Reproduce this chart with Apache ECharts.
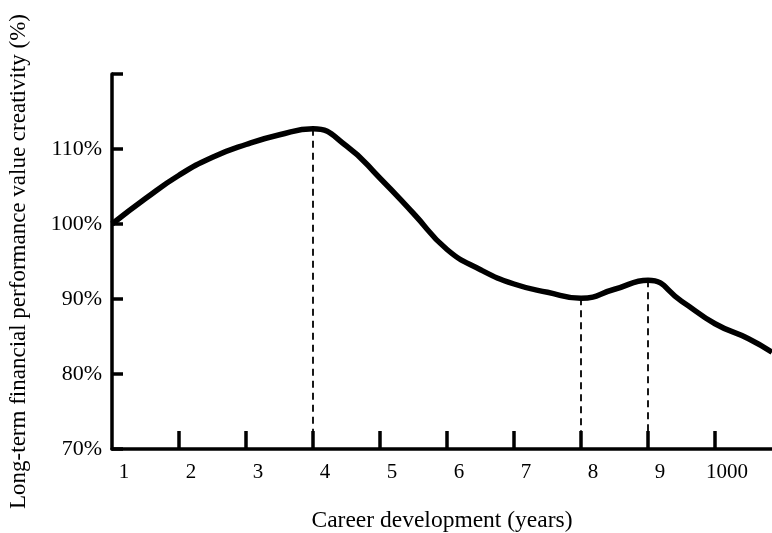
<!DOCTYPE html>
<html>
<head>
<meta charset="utf-8">
<script src="https://cdn.jsdelivr.net/npm/echarts@6/dist/echarts.min.js"></script>
<style>
    html, body { margin: 0; padding: 0; background: #fff; }
    #chart { width: 772px; height: 533px; }
</style>
</head>
<body>
<div id="chart"></div>
<script>
    // career position (tick index) and creativity (%)
    var careerX = [0, 0.5, 1, 1.5, 2, 2.5, 3, 3.5, 4, 4.5, 5, 5.5, 6, 6.5, 7, 7.5, 8, 8.5, 9, 9.5, 9.85];
    var creativity = [100, 103.4, 106.5, 108.9, 110.6, 111.9, 112.7, 110.4, 106.1, 101.4, 96.6, 93.9, 92.0, 90.9, 90.1, 91.3, 92.5, 89.7, 86.7, 84.7, 82.9];
    var xTickLabels = ['1', '2', '3', '4', '5', '6', '7', '8', '9', '1000'];
    var yTicks = [70, 80, 90, 100, 110, 120];
    var dropIdx = [6, 14, 16]; // points with dashed drop lines

    var font = '"Liberation Serif", "Times New Roman", serif';

    var chart = echarts.init(document.getElementById('chart'));
    chart.setOption({
        animation: false,
        grid: { left: 112, right: 0, top: 74, bottom: 84, containLabel: false, outerBoundsMode: 'none' },
        xAxis: {
            type: 'value',
            min: 0,
            max: 9.85,
            interval: 1,
            name: 'Career development (years)',
            nameLocation: 'middle',
            nameGap: 60,
            nameTextStyle: { color: '#000', fontFamily: font, fontSize: 23.5 },
            axisLine: { lineStyle: { color: '#000', width: 3.5 } },
            axisTick: {
                inside: true, length: 18,
                customValues: [1, 2, 3, 4, 5, 6, 7, 8, 9],
                lineStyle: { color: '#000', width: 3.5 }
            },
            axisLabel: {
                customValues: [0, 1, 2, 3, 4, 5, 6, 7, 8, 9],
                formatter: function (v) { return xTickLabels[Math.round(v)]; },
                color: '#000', fontFamily: font, fontSize: 21,
                margin: 13,
                padding: [0, 0, 0, 24]
            },
            splitLine: { show: false }
        },
        yAxis: {
            type: 'value',
            min: 70,
            max: 120,
            interval: 10,
            name: 'Long-term financial performance value creativity (%)',
            nameLocation: 'middle',
            nameGap: 82,
            nameTextStyle: { color: '#000', fontFamily: font, fontSize: 23 },
            axisLine: { show: true, lineStyle: { color: '#000', width: 3.5 } },
            axisTick: {
                show: true, inside: true, length: 11,
                customValues: yTicks,
                lineStyle: { color: '#000', width: 3.5 }
            },
            axisLabel: {
                formatter: function (v) { return v >= 120 ? '' : v + '%'; },
                color: '#000', fontFamily: font, fontSize: 22,
                margin: 10
            },
            splitLine: { show: false }
        },
        series: [{
            type: 'line',
            data: careerX.map(function (x, i) { return [x, creativity[i]]; }),
            smooth: 0.5,
            showSymbol: false,
            lineStyle: { color: '#000', width: 5.5 },
            markLine: {
                silent: true,
                symbol: 'none',
                label: { show: false },
                lineStyle: { color: '#000', type: [7, 5], width: 1.8 },
                data: dropIdx.map(function (i) {
                    return [{ coord: [careerX[i], creativity[i]] }, { coord: [careerX[i], 70] }];
                })
            }
        }]
    });
</script>
</body>
</html>
